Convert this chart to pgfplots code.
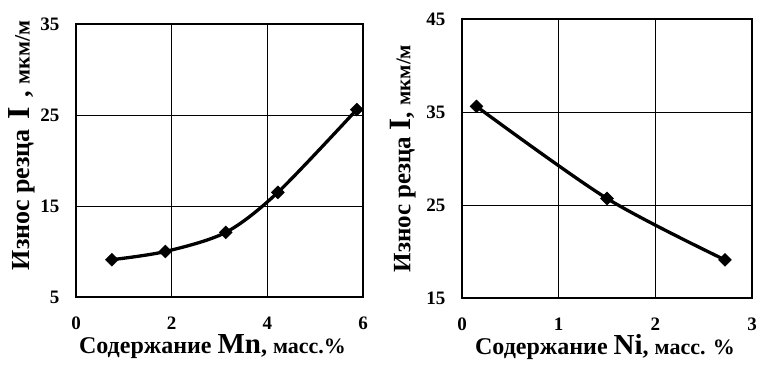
\documentclass[border=0pt]{standalone}
\usepackage{fontspec}
\setmainfont{Liberation Serif}
\usepackage{pgfplots}
\pgfplotsset{compat=1.18}
\begin{document}
\begin{tikzpicture}
\useasboundingbox (0pt,0pt) rectangle (760pt,-364pt);
\pgfplotsset{
  every axis/.append style={
    scale only axis,
    axis line style={line width=1.3pt},
    grid=major,
    major grid style={black, line width=1pt},
    major tick length=0pt,
    tick label style={font=\fontsize{19}{21}\selectfont\bfseries},
    /pgf/number format/assume math mode=true,
    xticklabel style={yshift=-16pt},
    yticklabel style={xshift=-13pt},
  },
  curve/.style={black, line width=3.3pt, smooth, mark=square*, mark size=4.6pt,
     mark options={rotate=45, solid, line width=0.4pt}},
}
\begin{axis}[at={(76pt,-297pt)}, anchor=south west, width=287pt, height=273pt,
  xmin=0, xmax=6, ymin=5, ymax=35, xtick={0,2,4,6}, ytick={5,15,25,35},
  xlabel={\bfseries\fontsize{24}{26}\selectfont Содержание {\fontsize{29}{30}\selectfont Mn}, {\fontsize{22}{22}\selectfont масс.\%}},
  ylabel={\bfseries\fontsize{26}{26}\selectfont Износ резца\hspace{3pt} {\fontsize{32}{30}\selectfont I}\hspace{3pt} , {\fontsize{22}{20}\selectfont мкм/м}},
  every axis x label/.style={at={(axis description cs:0.5,0)}, anchor=center, xshift=-7pt, yshift=-50pt},
  every axis y label/.style={at={(axis description cs:0,0.5)}, anchor=center, xshift=-54pt, yshift=15pt, rotate=90},
]
\addplot[curve] coordinates {(0.75,9.1) (1.87,10.0) (3.13,12.1) (4.22,16.5) (5.87,25.6)};
\end{axis}
\begin{axis}[at={(462pt,-298pt)}, anchor=south west, width=290pt, height=279pt,
  xmin=0, xmax=3, ymin=15, ymax=45, xtick={0,1,2,3}, ytick={15,25,35,45},
  xlabel={\bfseries\fontsize{24}{26}\selectfont Содержание {\fontsize{29}{30}\selectfont Ni}, {\fontsize{22}{22}\selectfont масс. \%}},
  ylabel={\bfseries\fontsize{25}{26}\selectfont Износ резца {\fontsize{31}{30}\selectfont I}, {\fontsize{21}{20}\selectfont мкм/м}},
  every axis x label/.style={at={(axis description cs:0.5,0)}, anchor=center, xshift=-2pt, yshift=-49pt},
  every axis y label/.style={at={(axis description cs:0,0.5)}, anchor=center, xshift=-59pt, rotate=90},
]
\addplot[curve] coordinates {(0.15,35.6) (1.5,25.7) (2.72,19.1)};
\end{axis}
\end{tikzpicture}
\end{document}
